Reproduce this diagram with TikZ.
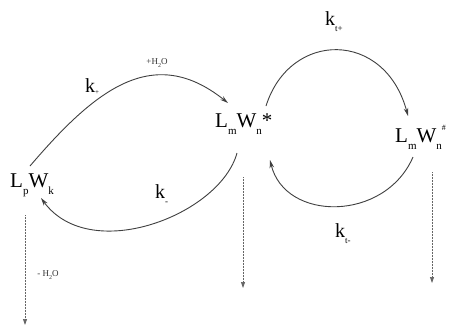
\documentclass[tikz,border=0pt]{standalone}
\usepackage{fontspec}
\setmainfont{Liberation Serif}
\usetikzlibrary{arrows.meta}
\newcommand\lo[1]{\raisebox{-0.38em}{\fontsize{11}{11}\selectfont #1}}
\newcommand\klo[1]{\raisebox{-0.3em}{\fontsize{9}{9}\selectfont #1}}
\newcommand\hlo[1]{\raisebox{-0.25em}{\fontsize{6}{6}\selectfont #1}}
\begin{document}
\begin{tikzpicture}[x=1pt,y=-1pt,
  curve/.style={draw=black!75, line width=0.9pt, -{Stealth[length=8pt,width=4.5pt]}},
  drop/.style={draw=black!60, dash pattern=on 0.6pt off 0.9pt, line width=0.7pt, -{Triangle[length=6pt,width=4pt]}},
  big/.style={inner sep=0pt, anchor=base west, font=\fontsize{21}{21}\selectfont},
  klab/.style={inner sep=0pt, anchor=base west, font=\fontsize{20}{20}\selectfont},
  small/.style={inner sep=0pt, font=\fontsize{9}{9}\selectfont, text=black!80}]
\path[use as bounding box, fill=white] (0,0) rectangle (455,327);

% species
\node[big] (lpwk) at (10,187) {L\lo{p}W\lo{k}};
\node[big] (lmstar) at (215,127) {L\lo{m}W\lo{n}*};
\node[big] (lmhash) at (395,142) {L\lo{m}W\lo{n}\raisebox{12pt}{\fontsize{8}{8}\selectfont\#}};

% rate constants
\node[klab] (kp) at (85,92) {k\raisebox{-0.1em}{\fontsize{7}{7}\selectfont +}};
\node[klab] (km) at (155,198) {k\klo{-}};
\node[klab] (ktp) at (325,25) {k\klo{t+}};
\node[klab] (ktm) at (335,237) {k\klo{t-}};
\node[small] (wadd) at (157,63) {+H\hlo{2}O};
\node[small] (wrem) at (48,275) {- H\hlo{2}O};

% curve end points
\coordinate (a1) at (30,166);
\coordinate (a2) at (228,103);
\coordinate (b1) at (237,153);
\coordinate (b2) at (41,198);
\coordinate (c1) at (266,106);
\coordinate (c2) at (408,116);
\coordinate (d1) at (413,157);
\coordinate (d2) at (270,160);

\draw[curve] (a1) .. controls (95,90) and (153,43) .. (a2);
\draw[curve] (b1) .. controls (220,215) and (90,265) .. (b2);
\draw[curve] (c1) .. controls (290,30) and (385,30) .. (c2);
\draw[curve] (d1) .. controls (385,222) and (285,222) .. (d2);

% dotted drops
\coordinate (e1) at (25,215);
\coordinate (f1) at (25,325);
\coordinate (e2) at (243,177);
\coordinate (f2) at (243,288);
\coordinate (e3) at (432,172);
\coordinate (f3) at (432,283);
\draw[drop] (e1) -- (f1);
\draw[drop] (e2) -- (f2);
\draw[drop] (e3) -- (f3);
\end{tikzpicture}
\end{document}
